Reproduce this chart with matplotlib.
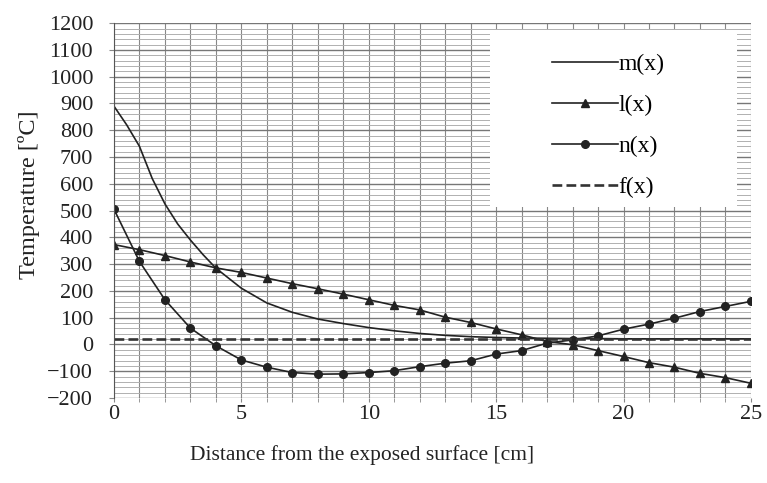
import matplotlib.pyplot as plt
from matplotlib.ticker import MultipleLocator
from matplotlib.patches import Rectangle

# values
x = [0, 1, 2, 3, 4, 5, 6, 7, 8, 9, 10, 11, 12, 13, 14, 15, 16, 17, 18, 19, 20, 21, 22, 23, 24, 25]

m_x = [0, 0.5, 1, 1.5, 2, 2.5, 3, 3.5, 4, 5, 6, 7, 8, 9, 10, 11, 12, 13, 14, 15, 16, 17, 18, 19, 20, 21, 22, 23, 24, 25]
m_vals = [890, 820, 740, 620, 525, 450, 390, 335, 285, 210, 155, 120, 95, 78, 63, 51, 41, 34, 29, 26, 24, 23, 22, 22, 21, 21, 21, 21, 21, 21]
l_vals = [373, 354, 332, 308, 286, 269, 248, 227, 208, 188, 167, 146, 129, 102, 82, 58, 36, 11, -1, -23, -45, -68, -85, -108, -124, -145]
n_vals = [505, 310, 167, 61, -5, -58, -85, -105, -111, -110, -105, -98, -83, -70, -61, -36, -23, 5, 17, 32, 57, 76, 98, 123, 142, 161]
f_vals = [20, 20, 20, 20, 20, 20, 20, 20, 20, 20, 20, 20, 20, 20, 20, 20, 20, 20, 20, 20, 20, 20, 20, 20, 20, 20]

x_ticks = [0, 5, 10, 15, 20, 25]
y_ticks = [-200, -100, 0, 100, 200, 300, 400, 500, 600, 700, 800, 900, 1000, 1100, 1200]

plt.rcParams["font.family"] = ["Liberation Serif", "DejaVu Serif"]

fig = plt.figure(figsize=(7.67, 4.83), dpi=100)
ax = fig.add_axes([0.1486, 0.176, 0.8304, 0.776])

ax.plot(m_x, m_vals, color="#222222", linewidth=1.2, label="m(x)")
ax.plot(x, l_vals, color="#222222", linewidth=1.2, marker="^", markersize=5.5, label="l(x)")
ax.plot(x, n_vals, color="#222222", linewidth=1.2, marker="o", markersize=5.5, label="n(x)")
ax.plot(x, f_vals, color="#333333", linewidth=1.9, linestyle="--", label="f(x)")

ax.set_xlim(0, 25)
ax.set_ylim(-200, 1200)
ax.set_xticks(x_ticks)
ax.set_yticks(y_ticks)
ax.xaxis.set_minor_locator(MultipleLocator(1))
ax.yaxis.set_minor_locator(MultipleLocator(20))

ax.grid(True, which="major", axis="y", color="#777777", linewidth=1.0)
ax.grid(True, which="minor", axis="y", color="#b0b0b0", linewidth=0.7)
ax.grid(True, which="both", axis="x", color="#888888", linewidth=0.8)
ax.set_axisbelow(True)

ax.tick_params(axis="x", which="both", length=3, color="#888888", labelsize=16, pad=2)
ax.tick_params(axis="y", which="major", length=3.5, color="#888888", labelsize=16, pad=11.5)
ax.tick_params(axis="y", which="minor", length=0)
ax.tick_params(axis="both", labelcolor="#222222")
for s in ["top", "right", "bottom"]:
    ax.spines[s].set_visible(False)
ax.spines["left"].set_color("#555555")

fig.text(362 / 767, 1 - 455 / 483, "Distance from the exposed surface [cm]",
         fontsize=15.5, ha="center", va="center", color="#222222")
fig.text(29 / 767, 1 - 195 / 483, "Temperature [ºC]", rotation=90,
         fontsize=17.5, ha="center", va="center", color="#222222")

# white box behind the legend
ax.add_patch(Rectangle((0.590, 0.509), 0.388, 0.472, transform=ax.transAxes,
                       facecolor="white", edgecolor="none", zorder=2.5))
leg = ax.legend(loc="upper left", bbox_to_anchor=(0.6876, 0.918), frameon=False,
                fontsize=17, numpoints=1, handlelength=2.8, handletextpad=0.0,
                labelspacing=0.82, borderpad=0, borderaxespad=0)
leg.set_zorder(3)

fig.savefig("out.png", dpi=100)
